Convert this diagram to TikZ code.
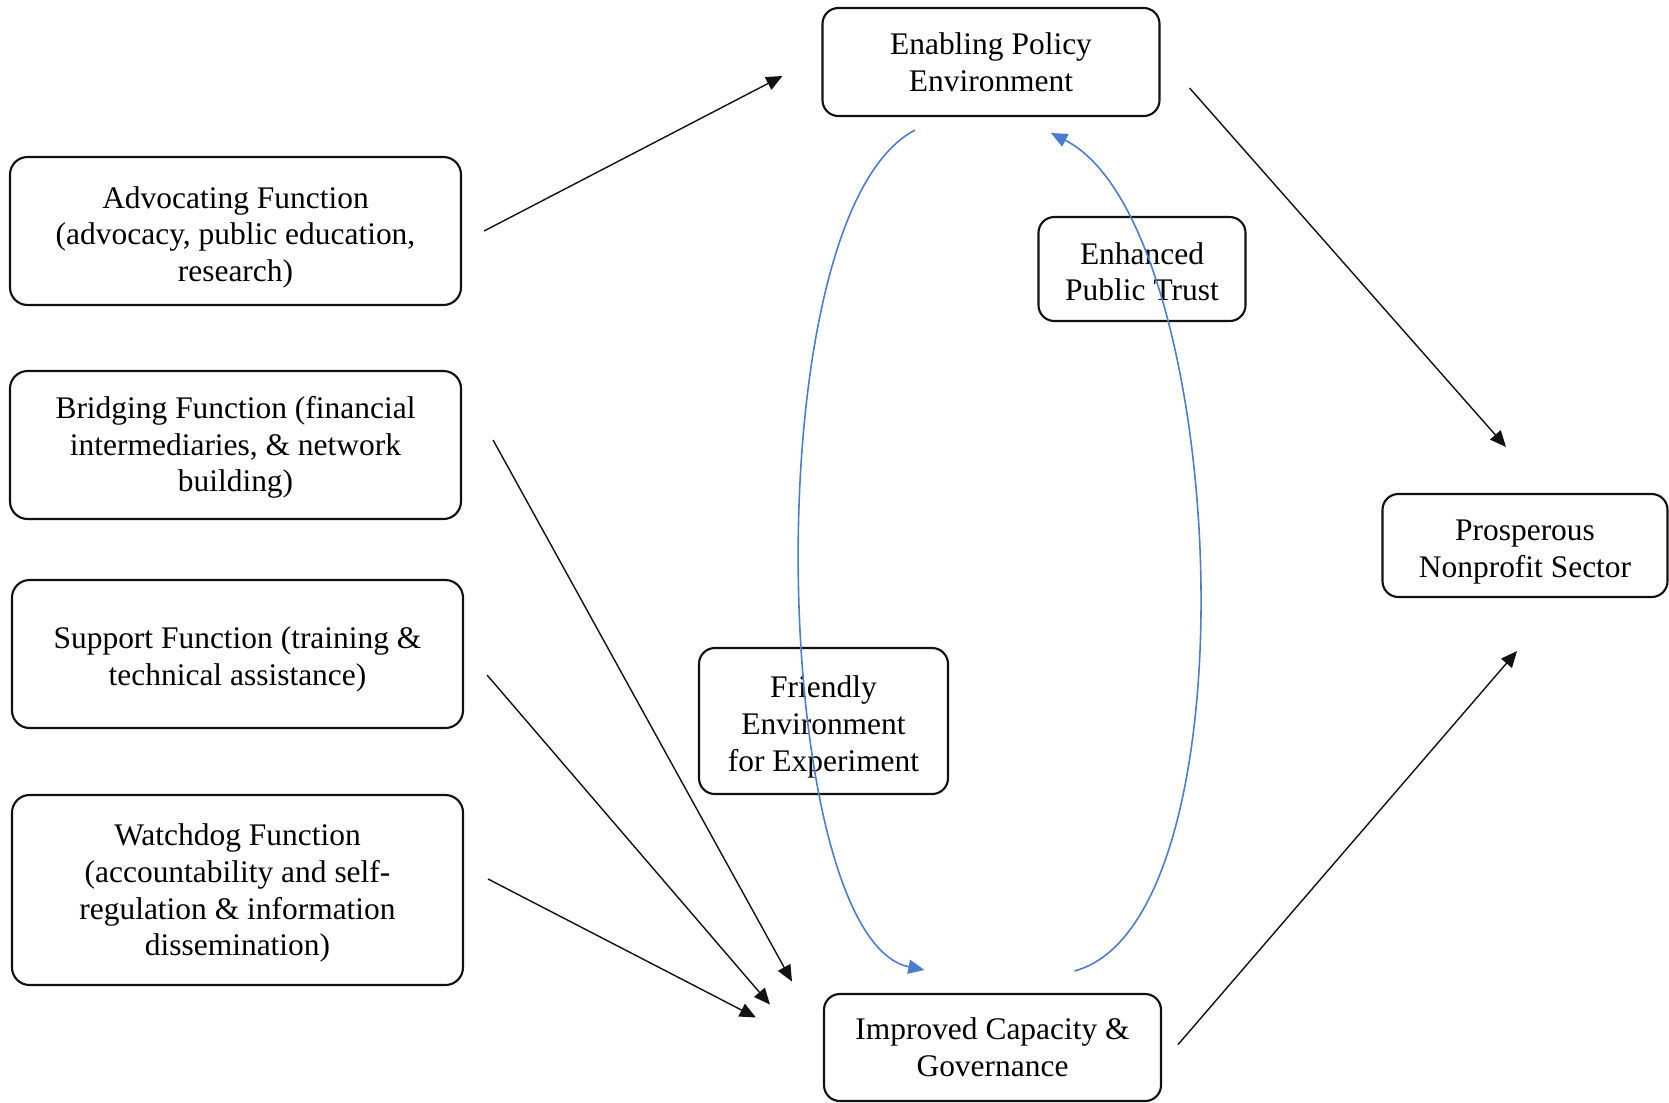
\documentclass[tikz,border=0pt]{standalone}
\usepackage{fontspec}
\setmainfont{Liberation Serif}
\usepackage{tikz}
\usepackage{xcolor}
\usetikzlibrary{arrows.meta}
\definecolor{Ink}{HTML}{111111}
\definecolor{LoopBlue}{HTML}{4A7CD0}

\begin{document}
\begin{tikzpicture}[
  x=1cm,y=1cm,
  font=\fontsize{8.95}{10.45}\selectfont,
  func/.style={draw=Ink, line width=0.6pt, rounded corners=5pt, align=center, inner sep=0pt, minimum width=4.51cm, minimum height=1.48cm},
  hub/.style={draw=Ink, line width=0.6pt, rounded corners=4.5pt, align=center, inner sep=0pt, minimum width=3.37cm, minimum height=1.08cm},
  mid/.style={draw=Ink, line width=0.6pt, rounded corners=4.5pt, align=center, inner sep=0pt},
  drop/.style={execute at begin node={\rule{0pt}{#1}}},
  arr/.style={-{Triangle[length=4.6pt,width=4pt]}, line width=0.4pt, draw=Ink},
  loop/.style={-{Triangle[length=4.6pt,width=4pt]}, line width=0.45pt, draw=LoopBlue}
]
  \useasboundingbox (0,0) rectangle (16.69,-11.02);

  % left column
  \node[func, drop=30.7pt] (adv) at (2.355,-2.31) {Advocating Function\\(advocacy, public education,\\research)};
  \node[func, drop=28.6pt] (brid) at (2.355,-4.45) {Bridging Function (financial\\intermediaries, \& network\\building)};
  \node[func, drop=19.65pt] (supp) at (2.375,-6.54) {Support Function (training \&\\technical assistance)};
  \node[func, drop=39.35pt, minimum height=1.9cm] (watch) at (2.375,-8.90) {Watchdog Function\\(accountability and self-\\regulation \& information\\dissemination)};

  % middle and right
  \node[hub] (enab) at (9.91,-0.62) {Enabling Policy\\Environment};
  \node[hub, minimum height=1.07cm] (impr) at (9.925,-10.475) {Improved Capacity \&\\Governance};
  \node[mid, drop=18.15pt, minimum width=2.07cm, minimum height=1.04cm] (trust) at (11.42,-2.69) {Enhanced\\Public Trust};
  \node[mid, drop=30.4pt, minimum width=2.49cm, minimum height=1.46cm] (fri) at (8.235,-7.21) {Friendly\\Environment\\for Experiment};
  \node[mid, drop=19.98pt, minimum width=2.85cm, minimum height=1.03cm] (pros) at (15.25,-5.455) {Prosperous\\Nonprofit Sector};

  \draw[arr] ([xshift=0.22cm]adv.east) -- ([xshift=-0.39cm,yshift=-0.14cm]enab.west);
  \draw[arr] ([xshift=0.31cm,yshift=0.05cm]brid.east) -- ([xshift=-0.31cm,yshift=0.66cm]impr.west);
  \draw[arr] ([xshift=0.23cm,yshift=-0.21cm]supp.east) -- ([xshift=-0.53cm,yshift=0.43cm]impr.west);
  \draw[arr] ([xshift=0.24cm,yshift=0.11cm]watch.east) -- ([xshift=-0.67cm,yshift=0.30cm]impr.west);
  \draw[arr] ([xshift=0.29cm,yshift=-0.26cm]enab.east) -- ([xshift=-0.19cm,yshift=0.46cm]pros.north);
  \draw[arr] ([xshift=0.16cm,yshift=0.03cm]impr.east) -- ([xshift=-0.08cm,yshift=-0.53cm]pros.south);

  % feedback loop
  \draw[loop] ([xshift=-0.76cm,yshift=-0.13cm]enab.south) .. controls +(-1.65,-0.86) and +(-1.54,0.31) .. ([xshift=-0.68cm,yshift=0.23cm]impr.north);
  \draw[loop] ([xshift=0.82cm,yshift=0.22cm]impr.north) .. controls +(1.85,0.5) and +(1.78,-0.9) .. ([xshift=0.60cm,yshift=-0.16cm]enab.south);
\end{tikzpicture}
\end{document}
